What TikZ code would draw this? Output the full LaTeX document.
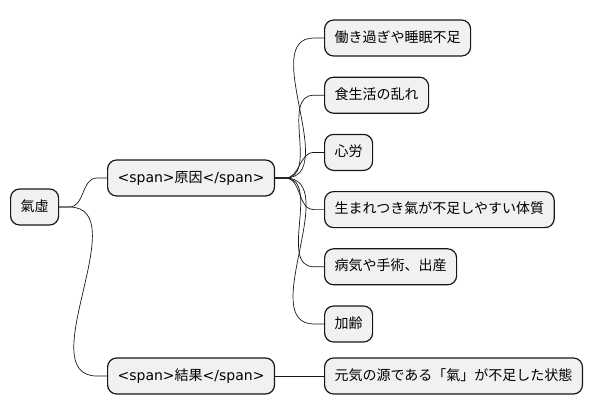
\documentclass[tikz,border=0pt]{standalone}
\usepackage{fontspec}
\setmainfont{Noto Sans CJK JP}
\newfontfamily\latinfont{DejaVu Sans}
\usetikzlibrary{positioning}
\definecolor{boxfill}{HTML}{F1F1F1}
\definecolor{boxline}{HTML}{181818}
\tikzset{
  mapnode/.style={draw=boxline,fill=boxfill,line width=1.2pt,rounded corners=9pt,
    minimum height=36pt,inner xsep=10pt,inner ysep=0pt,font=\fontsize{14}{16}\selectfont,
    text height=11pt,text depth=3pt},
  mapline/.style={draw=boxline,line width=0.7pt}
}
\newcommand{\mapbox}[3][]{\node[mapnode,#1] (#2) {#3};}
\newcommand{\mapedge}[2]{\draw[mapline] (#1.east) -- ++(10,0) to[out=0,in=180] ([xshift=-10pt]#2.west) -- (#2.west);}

\begin{document}
\begin{tikzpicture}[x=1pt,y=-1pt]
\useasboundingbox (0,0) rectangle (593,415);
\mapbox[anchor=west,at={(10,207)}]{qi}{氣虛}
\mapbox[anchor=west,at={(107,178)}]{cause}{{\latinfont <span>}原因{\latinfont </span>}}
\mapbox[anchor=west,at={(107,376)}]{result}{{\latinfont <span>}結果{\latinfont </span>}}
\mapbox[anchor=west,at={(324,38)}]{overwork}{働き過ぎや睡眠不足}
\mapbox[below=20pt of overwork.south west,anchor=north west]{diet}{食生活の乱れ}
\mapbox[below=20pt of diet.south west,anchor=north west]{worry}{心労}
\mapbox[below=20pt of worry.south west,anchor=north west]{innate}{生まれつき氣が不足しやすい体質}
\mapbox[below=20pt of innate.south west,anchor=north west]{illness}{病気や手術、出産}
\mapbox[below=20pt of illness.south west,anchor=north west]{aging}{加齢}
\mapbox[anchor=west,at={(324,376)}]{lack}{元気の源である「氣」が不足した状態}
\mapedge{qi}{cause}
\mapedge{qi}{result}
\mapedge{cause}{overwork}
\mapedge{cause}{diet}
\mapedge{cause}{worry}
\mapedge{cause}{innate}
\mapedge{cause}{illness}
\mapedge{cause}{aging}
\draw[mapline] (result.east) -- (lack.west);
\end{tikzpicture}
\end{document}
